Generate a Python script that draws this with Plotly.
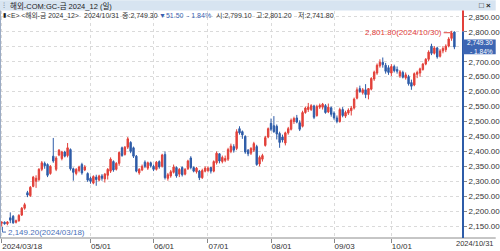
import pandas as pd
import plotly.graph_objects as go

# ---------------- data ----------------
HOLIDAYS = ['2024-03-29', '2024-05-27', '2024-06-19', '2024-07-04', '2024-09-02']
days = [d.strftime('%Y-%m-%d') for d in pd.bdate_range('2024-03-18', '2024-10-31')
        if d.strftime('%Y-%m-%d') not in HOLIDAYS]

opens = [2160, 2163, 2158, 2178, 2183, 2163, 2168, 2187, 2210,
         2262, 2252, 2283, 2300, 2306, 2340, 2360, 2356, 2326, 2384, 2340, 2388, 2376, 2398, 2386, 2406, 2342, 2326, 2336, 2356, 2338, 2326,
         2310, 2294, 2314, 2304, 2318, 2308, 2320, 2334, 2366, 2340, 2360, 2412, 2390, 2414, 2430, 2412, 2384, 2328, 2338, 2364, 2344, 2362,
         2350, 2340, 2366, 2350, 2390, 2310, 2318, 2330, 2346, 2324, 2346, 2324, 2342, 2378, 2346, 2332, 2334, 2312, 2334,
         2336, 2346, 2334, 2362, 2392, 2366, 2370, 2374, 2400, 2416, 2410, 2476, 2466, 2450, 2404, 2394, 2404, 2416, 2358, 2374, 2420, 2448,
         2494, 2486, 2484, 2460, 2448, 2428, 2462, 2474, 2500, 2512, 2496, 2484, 2530, 2540, 2540, 2552, 2520, 2548, 2548, 2553, 2532, 2546,
         2528, 2512, 2500, 2540, 2518, 2528, 2536, 2545, 2578, 2610, 2596, 2606, 2590, 2608, 2642, 2662, 2686, 2698, 2688, 2680,
         2662, 2684, 2674, 2652, 2664, 2646, 2650, 2630, 2622, 2658, 2662, 2674, 2692, 2708, 2752, 2728, 2746, 2718, 2736, 2740, 2752, 2778, 2799.1]
highs = [2166, 2166, 2167, 2196, 2187, 2172, 2190, 2214, 2228,
         2268, 2284, 2318, 2320, 2344, 2368, 2366, 2360, 2354, 2445, 2384, 2408, 2402, 2402, 2428, 2410, 2346, 2344, 2352, 2362, 2354, 2330,
         2316, 2320, 2322, 2322, 2324, 2328, 2344, 2380, 2370, 2364, 2400, 2416, 2418, 2448, 2434, 2416, 2388, 2344, 2356, 2370, 2366, 2366,
         2356, 2368, 2370, 2392, 2400, 2328, 2338, 2356, 2350, 2344, 2350, 2344, 2372, 2384, 2350, 2348, 2338, 2342, 2350,
         2350, 2348, 2370, 2400, 2394, 2386, 2386, 2412, 2426, 2424, 2474, 2484, 2470, 2454, 2408, 2414, 2432, 2422, 2386, 2392, 2452, 2480,
         2510, 2518, 2490, 2466, 2456, 2466, 2482, 2510, 2516, 2522, 2504, 2536, 2550, 2562, 2558, 2556, 2556, 2560, 2562, 2558, 2560, 2550,
         2534, 2520, 2546, 2548, 2536, 2544, 2552, 2580, 2614, 2620, 2612, 2625, 2612, 2648, 2670, 2694, 2708, 2714, 2696, 2688,
         2692, 2690, 2684, 2672, 2670, 2664, 2656, 2640, 2664, 2670, 2680, 2696, 2712, 2738, 2760, 2752, 2750, 2742, 2752, 2758, 2782, 2801.8, 2801.2]
lows = [2149.2, 2155, 2153, 2160, 2158, 2159, 2165, 2184, 2205,
        2247, 2248, 2280, 2278, 2300, 2334, 2342, 2314, 2322, 2362, 2334, 2384, 2370, 2380, 2380, 2336, 2302, 2320, 2330, 2322, 2334, 2298,
        2292, 2290, 2285, 2300, 2302, 2296, 2306, 2328, 2332, 2336, 2352, 2382, 2386, 2408, 2394, 2378, 2330, 2322, 2334, 2344, 2338, 2346,
        2334, 2336, 2342, 2346, 2306, 2302, 2312, 2326, 2312, 2314, 2316, 2320, 2338, 2340, 2330, 2326, 2304, 2308, 2330,
        2330, 2326, 2330, 2356, 2360, 2360, 2364, 2368, 2394, 2396, 2404, 2456, 2442, 2392, 2384, 2388, 2398, 2352, 2350, 2366, 2416, 2444,
        2468, 2462, 2440, 2412, 2430, 2420, 2456, 2470, 2492, 2494, 2468, 2480, 2526, 2532, 2535, 2508, 2516, 2542, 2540, 2526, 2528, 2516,
        2506, 2494, 2496, 2514, 2512, 2522, 2520, 2540, 2574, 2596, 2590, 2578, 2574, 2604, 2636, 2656, 2680, 2680, 2660, 2656,
        2652, 2664, 2660, 2646, 2644, 2640, 2620, 2606, 2618, 2645, 2650, 2670, 2688, 2702, 2722, 2724, 2710, 2714, 2728, 2732, 2748, 2770, 2741.8]
closes = [2163, 2158, 2164, 2170, 2161, 2168, 2186, 2210, 2222,
          2254, 2280, 2314, 2310, 2340, 2362, 2352, 2320, 2350, 2368, 2378, 2404, 2398, 2384, 2412, 2342, 2330, 2340, 2348, 2328, 2348, 2304,
          2300, 2316, 2306, 2318, 2310, 2324, 2340, 2374, 2338, 2360, 2396, 2386, 2414, 2442, 2400, 2384, 2334, 2340, 2350, 2350, 2362, 2352,
          2340, 2364, 2348, 2388, 2312, 2322, 2332, 2348, 2318, 2340, 2322, 2340, 2368, 2346, 2334, 2344, 2312, 2336, 2344,
          2344, 2334, 2366, 2394, 2368, 2380, 2376, 2406, 2418, 2404, 2466, 2462, 2455, 2398, 2392, 2410, 2426, 2356, 2380, 2386, 2446, 2476,
          2474, 2466, 2458, 2430, 2438, 2462, 2476, 2504, 2510, 2498, 2474, 2530, 2545, 2548, 2553, 2514, 2550, 2554, 2558, 2530, 2548, 2524,
          2512, 2500, 2540, 2520, 2530, 2538, 2545, 2575, 2606, 2600, 2606, 2590, 2610, 2644, 2665, 2688, 2698, 2690, 2668, 2664,
          2684, 2670, 2668, 2666, 2648, 2656, 2626, 2618, 2660, 2664, 2676, 2692, 2708, 2732, 2728, 2746, 2716, 2736, 2744, 2752, 2776, 2796, 2749.3]

tick_dates = ['2024-03-18', '2024-05-01', '2024-06-03', '2024-07-01', '2024-08-01', '2024-09-03', '2024-10-01']
tick_text = ['2024/03/18', '05/01', '06/01', '07/01', '08/01', '09/03', '10/01']
last_label = '2024/10/31'
y_ticks = list(range(2150, 2851, 50))
y_tick_text = ['' if v == 2750 else f'{v:,.2f}' for v in y_ticks]  # 2,750 hidden under the price box

title_text = '해외-COM:GC-금 2024_12 (일)'
last_price = 2749.3
last_high = 2801.2
box_text = '2,749.30<br>- 1.84%'
max_text = '2,801.80(2024/10/30)'
min_text = '2,149.20(2024/03/18)'

# ---------------- geometry ----------------
W, H = 500, 251
ML, MR, MT, MB = 0, 33, 11, 10
PW, PH = W - ML - MR, H - MT - MB
Y0, Y1 = 2110.4, 2869.5


def px(x):
    return (x - ML) / PW


def py(y):
    return (H - MB - y) / PH


def yv(p):  # price -> pixel y
    return MT + (Y1 - p) / (Y1 - Y0) * PH


RED = '#e2403a'
BLUE = '#2e5ca8'
FONT = 'Liberation Sans, Noto Sans CJK KR, sans-serif'

fig = go.Figure(go.Candlestick(
    x=days, open=opens, high=highs, low=lows, close=closes,
    increasing=dict(line=dict(color=RED, width=1), fillcolor=RED),
    decreasing=dict(line=dict(color=BLUE, width=1), fillcolor=BLUE),
    whiskerwidth=0, hoverinfo='skip'))

fig.update_layout(
    width=W, height=H, margin=dict(l=ML, r=MR, t=MT, b=MB),
    paper_bgcolor='white', plot_bgcolor='white', showlegend=False,
    font=dict(family=FONT, size=8, color='#333333'),
    xaxis=dict(type='category', range=[-0.59, 161.0], rangeslider=dict(visible=False),
               tickmode='array', tickvals=tick_dates, ticktext=tick_text,
               ticklabelposition='outside right', ticks='outside', ticklen=4, tickcolor='#888888',
               showgrid=True, gridcolor='#dadada', griddash='dot', gridwidth=1,
               showline=False, zeroline=False, tickfont=dict(size=8, color='#333333')),
    yaxis=dict(side='right', range=[Y0, Y1], tickmode='array', tickvals=y_ticks, ticktext=y_tick_text,
               ticks='outside', ticklen=3, tickcolor='#888888',
               showgrid=True, gridcolor='#dadada', griddash='dot', gridwidth=1,
               showline=False, zeroline=False, tickfont=dict(size=8, color='#333333')),
)

shapes = []
# title bar
shapes.append(dict(type='rect', xref='paper', yref='paper', x0=px(0), x1=px(W), y0=py(10.5), y1=py(0),
                   fillcolor='#d7e4f1', line=dict(width=0), layer='above'))
# left border
shapes.append(dict(type='line', xref='paper', yref='paper', x0=px(0.5), x1=px(0.5), y0=py(241), y1=py(10.5),
                   line=dict(color='#9aaac4', width=1)))
# bottom axis line
shapes.append(dict(type='line', xref='paper', yref='paper', x0=px(0), x1=px(W), y0=py(241), y1=py(241),
                   line=dict(color='#8c8c8c', width=1)))
# right axis: red above last high, blue below
shapes.append(dict(type='line', xref='paper', yref='paper', x0=px(467), x1=px(467), y0=py(yv(last_high)), y1=py(10.5),
                   line=dict(color=RED, width=2)))
shapes.append(dict(type='line', xref='paper', yref='paper', x0=px(467), x1=px(467), y0=py(241), y1=py(yv(last_high)),
                   line=dict(color=BLUE, width=2)))
# current price box
cy = yv(last_price)
shapes.append(dict(type='rect', xref='paper', yref='paper', x0=px(467), x1=px(500), y0=py(cy + 7.5), y1=py(cy - 7.5),
                   fillcolor='#3d66b3', line=dict(width=0), layer='above'))
# max marker line
mx = 455.5
my = yv(2801.8)
shapes.append(dict(type='path', xref='paper', yref='paper',
                   path=f'M {px(447.5)},{py(my + 1.5)} L {px(mx - 1.5)},{py(my + 1.5)} L {px(mx)},{py(my - 0.5)}',
                   line=dict(color=RED, width=1)))
# min marker line
ny = yv(2149.2)
shapes.append(dict(type='path', xref='paper', yref='paper',
                   path=f'M {px(2.5)},{py(ny + 0.5)} L {px(2.5)},{py(235)} L {px(6)},{py(235)}',
                   line=dict(color='#4a70b8', width=1)))
fig.update_layout(shapes=shapes)

ann = []


def text(x, y, s, color='#333333', size=8, anchor='left', bold=False, align='left'):
    ann.append(dict(x=px(x), y=py(y), xref='paper', yref='paper', text=f'<b>{s}</b>' if bold else s,
                    showarrow=False, xanchor=anchor, yanchor='middle', align=align,
                    font=dict(family=FONT, size=size, color=color)))


text(1, 5, '⁝', '#7a8799', 8)
text(8, 5.5, title_text, '#222222', 7.5)
text(497, 5.5, '□ ×', '#222222', 8, 'right', True)
# info line
text(1.5, 15.5, '▮', '#222222', 6)
text(5, 15.5, '&lt;E&gt; &lt;해외-금 2024_12&gt;', '#333333', 6.8)
text(83, 15.5, '2024/10/31', '#333333', 7)
text(121, 15.5, '종:2,749.30', '#333333', 7)
text(158, 15.5, '▼51.50', '#3a5fb0', 7)
text(187, 15.5, '- 1.84%', '#3a5fb0', 7)
text(216, 15.5, '시:2,799.10', '#333333', 7)
text(256, 15.5, '고:2,801.20', '#333333', 7)
text(299, 15.5, '저:2,741.80', '#333333', 7)
# price box
text(499, cy, box_text, 'white', 6.6, 'right', align='right')
# max / min labels
text(447.5, my + 1.5, max_text, RED, 8, 'right')
text(6.5, 235, min_text, '#4a70b8', 8)
# last x label
text(500, 246.5, last_label, '#333333', 7.5, 'right')
fig.update_layout(annotations=ann)

fig.write_html('out.html')
